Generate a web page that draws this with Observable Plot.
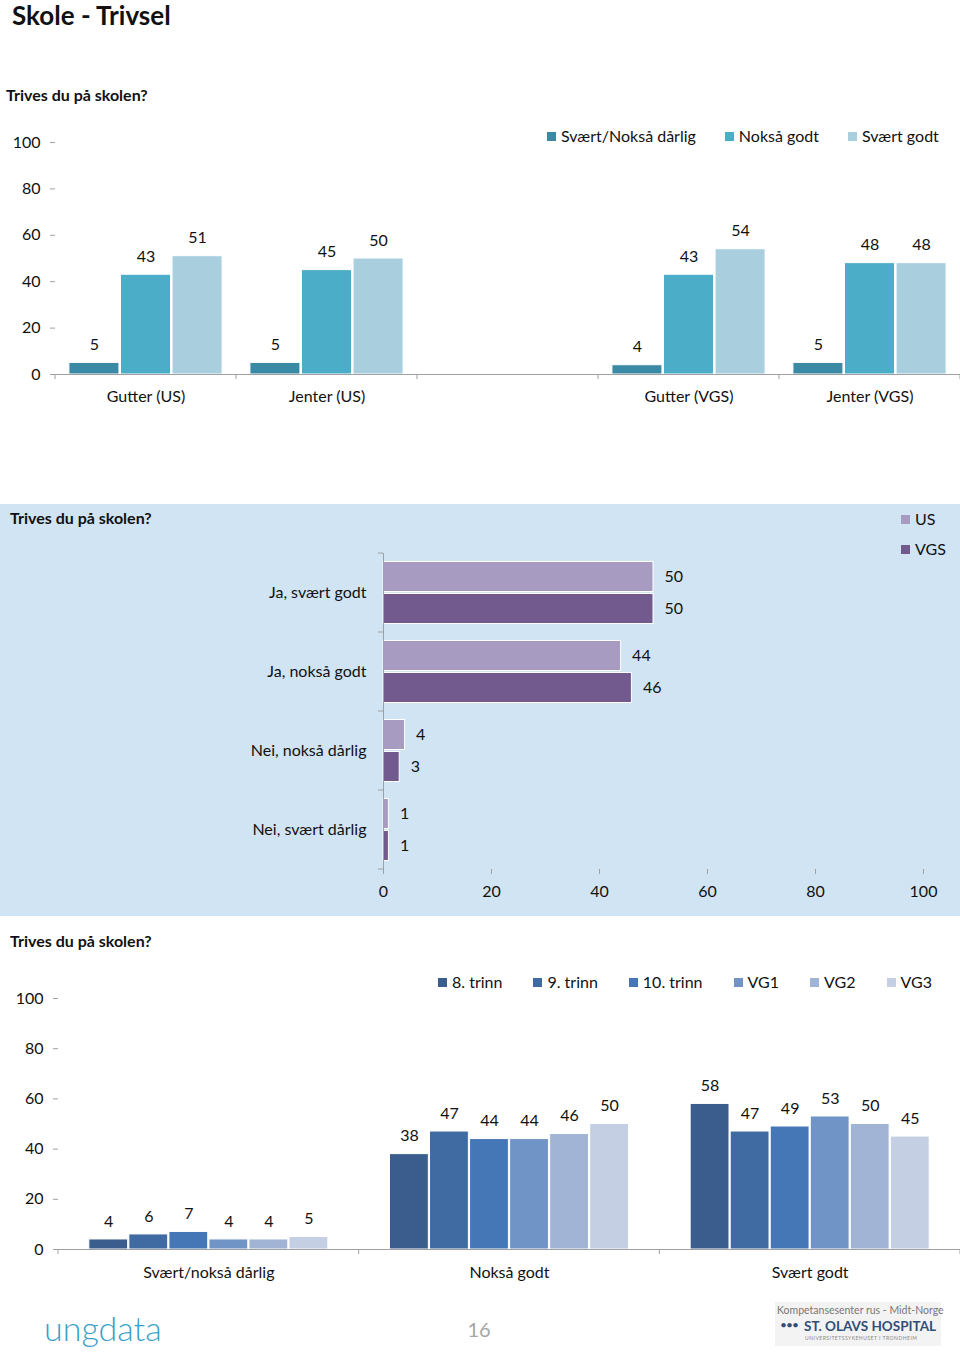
<!DOCTYPE html>
<html><head><meta charset="utf-8">
<script src="https://cdn.jsdelivr.net/npm/d3@7"></script>
<script src="https://cdn.jsdelivr.net/npm/@observablehq/plot@0.6"></script>
<style>
body{margin:0;background:#fff;font-family:Lato,"Open Sans",sans-serif;color:#111}
#page{position:relative;width:960px;height:1352px;overflow:hidden;background:#fff}
.abs{position:absolute}
.title{font-weight:bold;font-size:16px;line-height:20px;white-space:nowrap}
.legend{display:flex;align-items:center;font-size:16px;line-height:20px;white-space:nowrap}
.legend .item{display:flex;align-items:center}
.legend .sw{width:9px;height:9px;margin-right:5px;flex:none}
</style></head>
<body><div id="page">
<div class="abs" style="left:12px;top:1px;font-size:26px;font-weight:bold;line-height:28px;white-space:nowrap">Skole - Trivsel</div>
<div class="abs title" style="left:6px;top:85px">Trives du på skolen?</div>
<div id="c1" class="abs" style="left:0;top:120px"></div>
<div id="leg1" class="abs legend" style="left:547px;top:126px;gap:29px"></div>

<div class="abs" style="left:0;top:504px;width:960px;height:412px;background:#d0e4f4"></div>
<div class="abs title" style="left:10px;top:508px">Trives du på skolen?</div>
<div id="c2" class="abs" style="left:0;top:540px"></div>
<div id="leg2" class="abs legend" style="left:901px;top:509px;flex-direction:column;align-items:flex-start;gap:10px"></div>

<div class="abs title" style="left:10px;top:931px">Trives du på skolen?</div>
<div id="c3" class="abs" style="left:0;top:960px"></div>
<div id="leg3" class="abs legend" style="left:438px;top:972px;gap:31px"></div>

<div class="abs" style="left:44px;top:1308px;font-size:34px;line-height:40px;font-weight:300;color:#3aa2c9">ungdata</div>
<div class="abs" style="left:459px;top:1317px;width:40px;text-align:center;font-size:20px;line-height:24px;color:#a6a6a6">16</div>
<div class="abs" style="left:775px;top:1302px;width:166px;height:44px;background:#f3f3f3"></div>
<div class="abs" style="left:777px;top:1304px;font-size:10.5px;line-height:13px;color:#777;white-space:nowrap">Kompetansesenter rus - Midt-Norge</div>
<div class="abs" style="left:780px;top:1318px;font-size:12px;line-height:14px;color:#2f4f7a;letter-spacing:-1px">&#8226;&#8226;&#8226;</div>
<div class="abs" style="left:804px;top:1318px;font-size:13.5px;line-height:16px;font-weight:bold;color:#2f4f7a;white-space:nowrap">ST. OLAVS HOSPITAL</div>
<div class="abs" style="left:805px;top:1335px;font-size:5px;line-height:6px;color:#888;white-space:nowrap;letter-spacing:0.5px">UNIVERSITETSSYKEHUSET I TRONDHEIM</div>
</div>
<script>
// ---------- Data: chart 1 ----------
const cats1 = ["Gutter (US)", "Jenter (US)", "", "Gutter (VGS)", "Jenter (VGS)"];
const series1 = ["Svært/Nokså dårlig", "Nokså godt", "Svært godt"];
const daarlig1 = [5, 5, null, 4, 5];
const noksaGodt1 = [43, 45, null, 43, 48];
const svaertGodt1 = [51, 50, null, 54, 48];
const colors1 = ["#3b8aa5", "#4badc7", "#a9cfdf"];

// ---------- Data: chart 2 ----------
const cats2 = ["Ja, svært godt", "Ja, nokså godt", "Nei, nokså dårlig", "Nei, svært dårlig"];
const series2 = ["US", "VGS"];
const us2 = [50, 44, 4, 1];
const vgs2 = [50, 46, 3, 1];
const colors2 = ["#a89bc1", "#725a8e"];

// ---------- Data: chart 3 ----------
const cats3 = ["Svært/nokså dårlig", "Nokså godt", "Svært godt"];
const series3 = ["8. trinn", "9. trinn", "10. trinn", "VG1", "VG2", "VG3"];
const trinn8 = [4, 38, 58];
const trinn9 = [6, 47, 47];
const trinn10 = [7, 44, 49];
const vg1 = [4, 44, 53];
const vg2 = [4, 46, 50];
const vg3 = [5, 50, 45];
const colors3 = ["#3a5d8d", "#3f6aa2", "#4577b7", "#7194c6", "#a1b4d6", "#c4cfe3"];

const ticks100 = [0, 20, 40, 60, 80, 100];
const FONT = "Lato, 'Open Sans', sans-serif";
const AXIS = "#a0a0a0";

function legend(el, names, colors) {
  const box = document.getElementById(el);
  names.forEach((n, i) => {
    const it = document.createElement("div");
    it.className = "item";
    it.innerHTML = `<span class="sw" style="background:${colors[i]}"></span><span>${n}</span>`;
    box.appendChild(it);
  });
}

function edgeTicks(chart, scaleName, cats, fixed, len, vertical) {
  const s = chart.scale(scaleName);
  const edges = cats.map(c => s.apply(c));
  edges.push(s.apply(cats[cats.length - 1]) + s.bandwidth);
  const g = d3.select(chart).append("g").attr("stroke", AXIS);
  edges.forEach(e => {
    if (vertical) g.append("line").attr("x1", e).attr("x2", e).attr("y1", fixed).attr("y2", fixed + len);
    else g.append("line").attr("y1", e).attr("y2", e).attr("x1", fixed - len).attr("x2", fixed);
  });
}

// ---------- Chart 1 ----------
const vals1 = [daarlig1, noksaGodt1, svaertGodt1];
const rows1 = cats1.flatMap((c, i) => c === "" ? [] : series1.map((s, j) => ({cat: c, series: s, value: vals1[j][i]})));
const base1 = cats1.map(c => ({cat: c, v: 0}));
const chart1 = Plot.plot({
  width: 960, height: 300, marginTop: 22, marginBottom: 46, marginLeft: 55, marginRight: 0,
  style: {fontFamily: FONT, fontSize: "16px", color: "#111", background: "transparent", overflow: "visible"},
  fx: {domain: cats1, padding: 0, round: false, label: null, axis: null},
  x: {domain: series1, paddingInner: 0.03, paddingOuter: 0.27, round: false, axis: null},
  y: {domain: [0, 100], axis: null},
  color: {domain: series1, range: colors1},
  marks: [
    Plot.barY(rows1, {fx: "cat", x: "series", y: "value", fill: "series", stroke: "white", strokeWidth: 1}),
    Plot.text(rows1, {fx: "cat", x: "series", y: "value", text: "value", dy: -18, fill: "#111"}),
    Plot.ruleY(base1, {fx: "cat", y: "v", stroke: AXIS}),
    Plot.axisY({ticks: ticks100, tickSize: 5, tickPadding: 10, line: true, stroke: AXIS, fill: "#111", label: null}),
    Plot.axisFx({anchor: "bottom", tickSize: 0, tickPadding: 16, label: null, fill: "#111"})
  ]
});
document.getElementById("c1").appendChild(chart1);
edgeTicks(chart1, "fx", cats1, chart1.scale("y").apply(0), 5, true);
legend("leg1", series1, colors1);

// ---------- Chart 2 ----------
const rows2 = cats2.flatMap((c, i) => [{cat: c, series: "US", value: us2[i]}, {cat: c, series: "VGS", value: vgs2[i]}]);
const base2 = cats2.map(c => ({cat: c, v: 0}));
const chart2 = Plot.plot({
  width: 960, height: 370, marginTop: 13, marginBottom: 41, marginLeft: 383, marginRight: 37,
  style: {fontFamily: FONT, fontSize: "16px", color: "#111", background: "transparent", overflow: "visible"},
  fy: {domain: cats2, padding: 0, round: false, label: null, axis: null},
  y: {domain: series2, paddingInner: 0.0625, paddingOuter: 0.266, round: false, axis: null},
  x: {domain: [0, 100], axis: null},
  color: {domain: series2, range: colors2},
  marks: [
    Plot.barX(rows2, {fy: "cat", y: "series", x: "value", fill: "series", stroke: "white", strokeWidth: 1}),
    Plot.text(rows2, {fy: "cat", y: "series", x: "value", text: "value", dx: 11, textAnchor: "start", fill: "#111"}),
    Plot.ruleX(base2, {fy: "cat", x: "v", stroke: AXIS}),
    Plot.axisX({ticks: ticks100, tickSize: 5, tickPadding: 11, line: true, stroke: AXIS, fill: "#111", label: null}),
    Plot.axisFy({anchor: "left", tickSize: 0, tickPadding: 17, label: null, fill: "#111"})
  ]
});
document.getElementById("c2").appendChild(chart2);
edgeTicks(chart2, "fy", cats2, chart2.scale("x").apply(0), 5, false);
legend("leg2", series2, colors2);

// ---------- Chart 3 ----------
const vals3 = [trinn8, trinn9, trinn10, vg1, vg2, vg3];
const rows3 = cats3.flatMap((c, i) => series3.map((s, j) => ({cat: c, series: s, value: vals3[j][i]})));
const base3 = cats3.map(c => ({cat: c, v: 0}));
const chart3 = Plot.plot({
  width: 960, height: 330, marginTop: 38, marginBottom: 41, marginLeft: 58, marginRight: 0,
  style: {fontFamily: FONT, fontSize: "16px", color: "#111", background: "transparent", overflow: "visible"},
  fx: {domain: cats3, padding: 0, round: false, label: null, axis: null},
  x: {domain: series3, paddingInner: 0.03, paddingOuter: 0.77, round: false, axis: null},
  y: {domain: [0, 100], axis: null},
  color: {domain: series3, range: colors3},
  marks: [
    Plot.barY(rows3, {fx: "cat", x: "series", y: "value", fill: "series", stroke: "white", strokeWidth: 1}),
    Plot.text(rows3, {fx: "cat", x: "series", y: "value", text: "value", dy: -18, fill: "#111"}),
    Plot.ruleY(base3, {fx: "cat", y: "v", stroke: AXIS}),
    Plot.axisY({ticks: ticks100, tickSize: 5, tickPadding: 10, line: true, stroke: AXIS, fill: "#111", label: null}),
    Plot.axisFx({anchor: "bottom", tickSize: 0, tickPadding: 17, label: null, fill: "#111"})
  ]
});
document.getElementById("c3").appendChild(chart3);
edgeTicks(chart3, "fx", cats3, chart3.scale("y").apply(0), 5, true);
legend("leg3", series3, colors3);
</script>
</body></html>
